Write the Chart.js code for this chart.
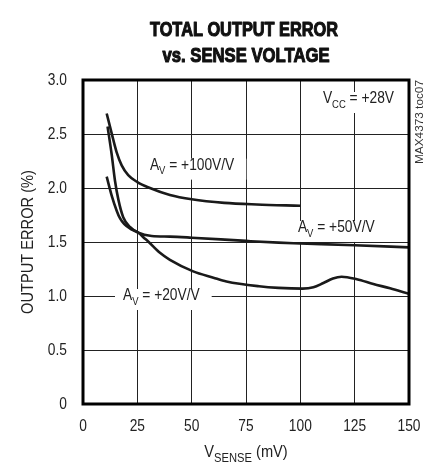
<!DOCTYPE html>
<html><head><meta charset="utf-8">
<script src="https://cdn.jsdelivr.net/npm/chart.js@4/dist/chart.umd.min.js"></script>
<style>html,body{margin:0;padding:0;background:#fff}#wrap{width:425px;height:465px}</style>
</head><body><div id="wrap"><canvas id="c" width="425" height="465"></canvas></div>
<script>
const FONT = "'Liberation Sans',Arimo,Arial,sans-serif";
const SX = 0.86; // horizontal squeeze to imitate a condensed face
const xTicks = [0, 25, 50, 75, 100, 125, 150];
const yTicks = [0, 0.5, 1.0, 1.5, 2.0, 2.5, 3.0];
const av100X = [10.9, 13.2, 15.5, 17.8, 20.8, 25, 30.8, 40, 50, 65, 80, 100];
const av100Y = [2.69, 2.506, 2.33, 2.21, 2.12, 2.055, 2.0, 1.935, 1.895, 1.862, 1.847, 1.835];
const av50X = [11.3, 13.2, 14.7, 16.3, 18.5, 21.6, 25.5, 31.6, 40, 50, 75, 90, 100, 125, 150];
const av50Y = [2.57, 2.31, 2.07, 1.89, 1.73, 1.64, 1.586, 1.556, 1.55, 1.54, 1.51, 1.494, 1.487, 1.47, 1.45];
const av20X = [10.9, 13.2, 15.5, 17, 19, 22, 25.5, 28, 30, 35.4, 40, 50.7, 60, 66, 81, 90, 101, 106, 110.6, 115, 119, 126, 133.6, 141.3, 150];
const av20Y = [2.105, 1.93, 1.79, 1.72, 1.665, 1.62, 1.586, 1.54, 1.505, 1.4, 1.335, 1.228, 1.17, 1.135, 1.09, 1.075, 1.068, 1.08, 1.12, 1.162, 1.178, 1.155, 1.111, 1.071, 1.02];

const toPts = (xs, ys) => xs.map((x, i) => ({x, y: ys[i]}));
const lineStyle = {borderColor:'#1a1a1a', borderWidth:2.6, pointRadius:0, fill:false, cubicInterpolationMode:'monotone'};

// label anchor = left edge / text baseline, in data units
const labels = [
  {x: 30.8, y: 2.17, parts: [['A',0],['V',1],[' = +100V/V',0]]},
  {x: 110.4, y: 2.787, parts: [['V',0],['CC',1],[' = +28V',0]]},
  {x: 98.9, y: 1.593, parts: [['A',0],['V',1],[' = +50V/V',0]]},
  {x: 18.4, y: 0.963, parts: [['A',0],['V',1],[' = +20V/V',0]]}
];

function partsWidth(ctx, parts, size, subSize) {
  let w = 0;
  for (const [t, sub] of parts) { ctx.font = (sub ? subSize : size) + 'px ' + FONT; w += ctx.measureText(t).width; }
  return w * SX;
}
function drawParts(ctx, x, y, parts, size, subSize) {
  ctx.save();
  ctx.translate(x, y);
  ctx.scale(SX, 1);
  ctx.textAlign = 'left';
  ctx.textBaseline = 'alphabetic';
  let cx = 0;
  for (const [t, sub] of parts) {
    ctx.font = (sub ? subSize : size) + 'px ' + FONT;
    ctx.fillText(t, cx, sub ? size * 0.3 : 0);
    cx += ctx.measureText(t).width;
  }
  ctx.restore();
}
function sqText(ctx, text, x, y, size, align, baseline) {
  ctx.save();
  ctx.translate(x, y);
  ctx.scale(SX, 1);
  ctx.font = size + 'px ' + FONT;
  ctx.textAlign = align;
  ctx.textBaseline = baseline;
  ctx.fillText(text, 0, 0);
  ctx.restore();
}
function fitText(ctx, text, cx, y, width, font, align, stroke) {
  ctx.save();
  ctx.font = font;
  const s = width / ctx.measureText(text).width;
  ctx.translate(cx, y);
  ctx.scale(s, 1);
  ctx.textAlign = align || 'center';
  ctx.textBaseline = 'alphabetic';
  ctx.fillText(text, 0, 0);
  if (stroke) { ctx.lineWidth = stroke; ctx.strokeStyle = ctx.fillStyle; ctx.lineJoin = 'round'; ctx.strokeText(text, 0, 0); }
  ctx.restore();
}

const annot = {
  id: 'annot',
  beforeDatasetsDraw(chart) {
    const {ctx, scales: {x, y}} = chart;
    ctx.save();
    for (const L of labels) {
      const px = x.getPixelForValue(L.x), py = y.getPixelForValue(L.y);
      const w = partsWidth(ctx, L.parts, 16, 11);
      ctx.fillStyle = '#fff';
      ctx.fillRect(px - 8, py - 11, w + 20, 21);
      ctx.fillStyle = '#222';
      drawParts(ctx, px, py, L.parts, 16, 11);
    }
    ctx.restore();
  },
  afterDraw(chart) {
    const {ctx, chartArea: a, scales: {x, y}} = chart;
    ctx.save();
    ctx.strokeStyle = '#000';
    ctx.lineWidth = 3;
    ctx.strokeRect(a.left, a.top, a.right - a.left, a.bottom - a.top);
    ctx.fillStyle = '#222';
    // tick labels through the scales
    for (const t of y.ticks) {
      sqText(ctx, t.value === 0 ? '0' : t.value.toFixed(1), 67, y.getPixelForValue(t.value) + 1, 16, 'right', 'middle');
    }
    for (const t of x.ticks) {
      sqText(ctx, String(t.value), x.getPixelForValue(t.value), 431, 16, 'center', 'alphabetic');
    }
    ctx.fillStyle = '#111';
    fitText(ctx, 'TOTAL OUTPUT ERROR', 244, 36, 188, 'bold 20px ' + FONT, 'center', 1.1);
    fitText(ctx, 'vs. SENSE VOLTAGE', 246, 62, 167, 'bold 20px ' + FONT, 'center', 1.1);
    // y title
    ctx.fillStyle = '#222';
    ctx.save();
    ctx.translate(33, (a.top + a.bottom) / 2);
    ctx.rotate(-Math.PI / 2);
    fitText(ctx, 'OUTPUT ERROR (%)', 0, 0, 144, '16px ' + FONT);
    ctx.restore();
    // x title
    const xp = [['V',0],['SENSE',1],[' (mV)',0]];
    const w = partsWidth(ctx, xp, 17, 13);
    drawParts(ctx, 246 - w / 2, 457, xp, 17, 13);
    // side code
    ctx.save();
    ctx.translate(423, 80);
    ctx.rotate(-Math.PI / 2);
    ctx.fillStyle = '#333';
    fitText(ctx, 'MAX4373 toc07', 0, 0, 84, '10px ' + FONT, 'right');
    ctx.restore();
    ctx.restore();
  }
};

new Chart(document.getElementById('c'), {
  type: 'line',
  data: {
    datasets: [
      {data: toPts(av100X, av100Y), ...lineStyle},
      {data: toPts(av50X, av50Y), ...lineStyle},
      {data: toPts(av20X, av20Y), ...lineStyle}
    ]
  },
  options: {
    responsive: false, animation: false, devicePixelRatio: 1,
    layout: {padding: {top: 80, right: 16, left: 0, bottom: 0}},
    plugins: {legend: {display: false}, title: {display: false}, tooltip: {enabled: false}},
    scales: {
      x: {
        type: 'linear', min: 0, max: 150,
        afterBuildTicks: s => { s.ticks = xTicks.map(v => ({value: v})); },
        afterFit: s => { s.height = 61; },
        grid: {color: '#222', lineWidth: 1, drawTicks: false},
        border: {display: false},
        ticks: {display: false}
      },
      y: {
        type: 'linear', min: 0, max: 3,
        afterBuildTicks: s => { s.ticks = yTicks.map(v => ({value: v})); },
        afterFit: s => { s.width = 83; },
        grid: {color: '#222', lineWidth: 1, drawTicks: false},
        border: {display: false},
        ticks: {display: false}
      }
    }
  },
  plugins: [annot]
});
</script></body></html>
